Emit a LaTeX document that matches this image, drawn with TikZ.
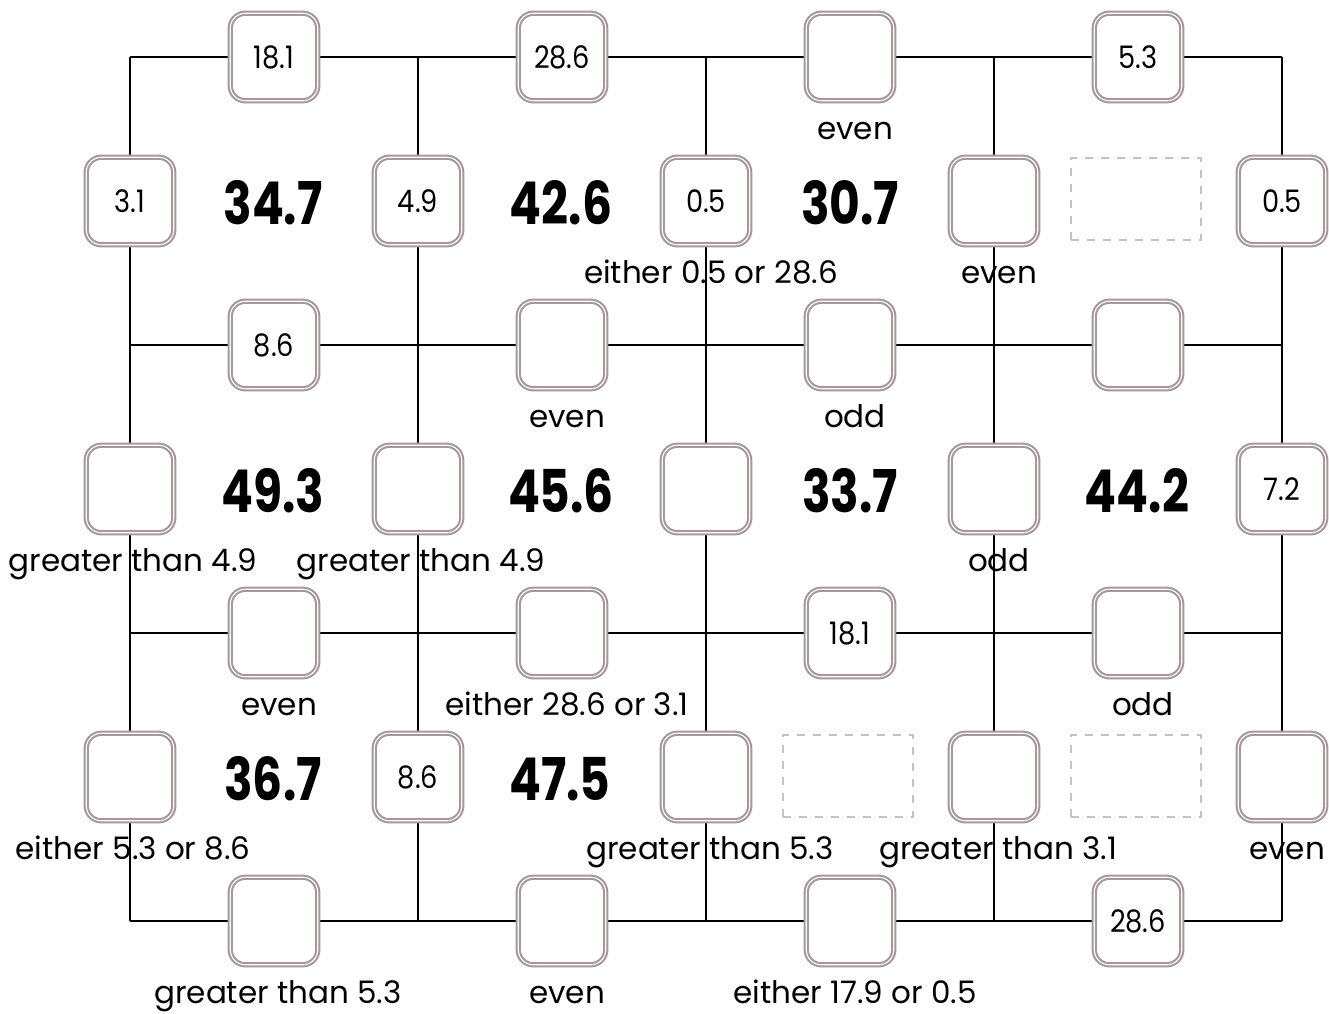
\documentclass[tikz,border=0pt]{standalone}
\usepackage{fontspec}
\setmainfont{Poppins}
\usetikzlibrary{calc}
\definecolor{boxgray}{RGB}{166,152,152}
\definecolor{dashgray}{RGB}{195,195,195}
\newcommand{\narrow}[2]{\scalebox{#1}[1]{#2}}
\tikzset{
  gridline/.style={line width=2.6pt, black},
  cellbox/.style={draw=boxgray, double=white, line width=2.1pt, double distance=1.1pt,
    fill=white, rounded corners=15pt, minimum size=87.5pt, inner sep=0pt,
    font=\fontsize{31}{31}\selectfont},
  blank/.style={draw=dashgray, dash pattern=on 8pt off 8pt, line width=2pt,
    minimum width=130pt, minimum height=82pt, inner sep=0pt},
  total/.style={font=\bfseries\fontsize{59}{59}\selectfont, inner sep=0pt},
  hint/.style={font=\fontsize{31}{31}\selectfont, inner sep=0pt, anchor=base},
}
\newcommand{\val}[1]{\narrow{0.88}{#1}}
\newcommand{\sumval}[1]{\narrow{0.8}{#1}}
\begin{document}
\begin{tikzpicture}[x=1pt,y=-1pt]
\useasboundingbox (0,0) rectangle (1329,1013);

% lattice corners
\foreach \r in {0,...,3}{
  \foreach \c in {0,...,4}{
    \coordinate (c-\r-\c) at ({130+288*\c},{57+288*\r});
  }
}
% lattice lines
\foreach \r in {0,...,3}{ \draw[gridline] (c-\r-0) -- (c-\r-4); }
\foreach \c in {0,...,4}{ \draw[gridline] (c-0-\c) -- (c-3-\c); }

% boxes on horizontal edges
\foreach \c/\t in {0/18.1,1/28.6,2/{},3/5.3}{ \node[cellbox] (h-0-\c) at ({274+288*\c},57) {\val{\t}}; }
\foreach \c/\t in {0/8.6,1/{},2/{},3/{}}{ \node[cellbox] (h-1-\c) at ({274+288*\c},345) {\val{\t}}; }
\foreach \c/\t in {0/{},1/{},2/18.1,3/{}}{ \node[cellbox] (h-2-\c) at ({274+288*\c},633) {\val{\t}}; }
\foreach \c/\t in {0/{},1/{},2/{},3/28.6}{ \node[cellbox] (h-3-\c) at ({274+288*\c},921) {\val{\t}}; }

% boxes on vertical edges
\foreach \c/\t in {0/3.1,1/4.9,2/0.5,3/{},4/0.5}{ \node[cellbox] (v-0-\c) at ({130+288*\c},201) {\val{\t}}; }
\foreach \c/\t in {0/{},1/{},2/{},3/{},4/7.2}{ \node[cellbox] (v-1-\c) at ({130+288*\c},489) {\val{\t}}; }
\foreach \c/\t in {0/{},1/8.6,2/{},3/{},4/{}}{ \node[cellbox] (v-2-\c) at ({130+288*\c},777) {\val{\t}}; }

% cell totals
\node[total] (s-0-0) at (273,203) {\sumval{34.7}};
\node[total] (s-0-1) at (561,203) {\sumval{42.6}};
\node[total] (s-0-2) at (850,203) {\sumval{30.7}};
\node[blank] (s-0-3) at (1136,199) {};
\node[total] (s-1-0) at (273,491) {\sumval{49.3}};
\node[total] (s-1-1) at (561,491) {\sumval{45.6}};
\node[total] (s-1-2) at (850,491) {\sumval{33.7}};
\node[total] (s-1-3) at (1137,491) {\sumval{44.2}};
\node[total] (s-2-0) at (273,779) {\sumval{36.7}};
\node[total] (s-2-1) at (560,779) {\sumval{47.5}};
\node[blank] (s-2-2) at (848,776) {};
\node[blank] (s-2-3) at (1136,776) {};

% clues under the boxes
\node[hint] (t-h-0-2) at ($(h-0-2.center)+(5,82)$) {even};
\node[hint] (t-v-0-2) at ($(v-0-2.center)+(5,82)$) {either 0.5 or 28.6};
\node[hint] (t-v-0-3) at ($(v-0-3.center)+(5,82)$) {even};
\node[hint] (t-h-1-1) at ($(h-1-1.center)+(5,82)$) {even};
\node[hint] (t-h-1-2) at ($(h-1-2.center)+(5,82)$) {odd};
\node[hint] (t-v-1-0) at ($(v-1-0.center)+(3,82)$) {greater than 4.9};
\node[hint] (t-v-1-1) at ($(v-1-1.center)+(3,82)$) {greater than 4.9};
\node[hint] (t-v-1-3) at ($(v-1-3.center)+(5,82)$) {odd};
\node[hint] (t-h-2-0) at ($(h-2-0.center)+(5,82)$) {even};
\node[hint] (t-h-2-1) at ($(h-2-1.center)+(5,82)$) {either 28.6 or 3.1};
\node[hint] (t-h-2-3) at ($(h-2-3.center)+(5,82)$) {odd};
\node[hint] (t-v-2-0) at ($(v-2-0.center)+(3,82)$) {either 5.3 or 8.6};
\node[hint] (t-v-2-2) at ($(v-2-2.center)+(4,82)$) {greater than 5.3};
\node[hint] (t-v-2-3) at ($(v-2-3.center)+(4,82)$) {greater than 3.1};
\node[hint] (t-v-2-4) at ($(v-2-4.center)+(5,82)$) {even};
\node[hint] (t-h-3-0) at ($(h-3-0.center)+(4,82)$) {greater than 5.3};
\node[hint] (t-h-3-1) at ($(h-3-1.center)+(5,82)$) {even};
\node[hint] (t-h-3-2) at ($(h-3-2.center)+(5,82)$) {either 17.9 or 0.5};
\end{tikzpicture}
\end{document}
